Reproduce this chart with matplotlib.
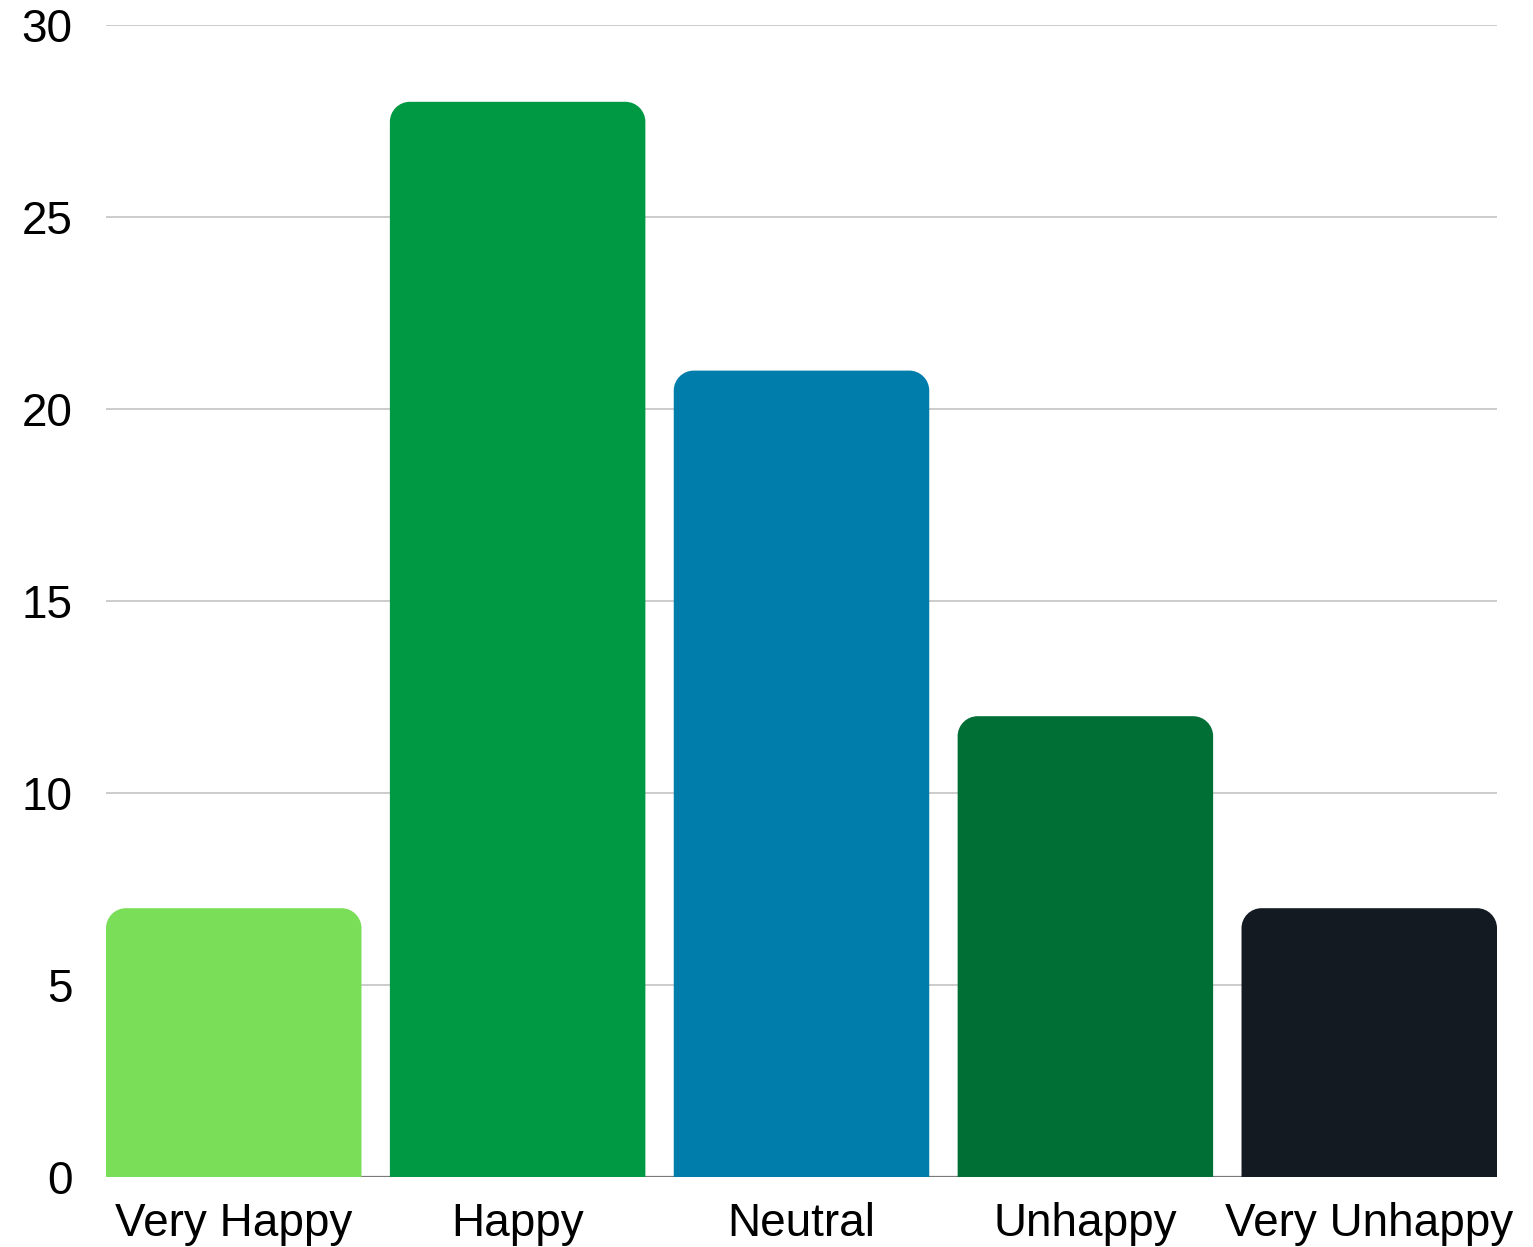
import matplotlib.pyplot as plt
from matplotlib.path import Path
from matplotlib.patches import PathPatch

categories = ["Very Happy", "Happy", "Neutral", "Unhappy", "Very Unhappy"]
counts = [7, 28, 21, 12, 7]
colors = ["#7BDE59", "#009943", "#007DAA", "#006F36", "#131A22"]
yticks = [0, 5, 10, 15, 20, 25, 30]

plt.rcParams['font.family'] = ['Liberation Sans', 'DejaVu Sans']

W, H = 1533, 1247
fig = plt.figure(figsize=(W / 100, H / 100), dpi=100)
left, right, bottom, top = 106, 1497, 1247 - 1177, 1247 - 25
ax = fig.add_axes([left / W, bottom / H, (right - left) / W, (top - bottom) / H])

xmin, xmax = -0.45, len(categories) - 0.55
ymin, ymax = 0, 30
ax.set_xlim(xmin, xmax)
ax.set_ylim(ymin, ymax)

# pixel scale of each data unit, used to keep the corners circular
px_x = (right - left) / (xmax - xmin)
px_y = (top - bottom) / (ymax - ymin)
radius_px = 20
rx = radius_px / px_x
ry = radius_px / px_y
width = 0.9
k = 0.5523  # bezier handle length for a quarter circle


def top_rounded_bar(x0, w, h):
    x1 = x0 + w
    verts = [
        (x0, 0), (x0, h - ry),
        (x0, h - ry + k * ry), (x0 + rx - k * rx, h), (x0 + rx, h),
        (x1 - rx, h),
        (x1 - rx + k * rx, h), (x1, h - ry + k * ry), (x1, h - ry),
        (x1, 0), (x0, 0),
    ]
    codes = [Path.MOVETO, Path.LINETO,
             Path.CURVE4, Path.CURVE4, Path.CURVE4,
             Path.LINETO,
             Path.CURVE4, Path.CURVE4, Path.CURVE4,
             Path.LINETO, Path.CLOSEPOLY]
    return Path(verts, codes)


for i, (v, c) in enumerate(zip(counts, colors)):
    ax.add_patch(PathPatch(top_rounded_bar(i - width / 2, width, v),
                           facecolor=c, edgecolor="none", zorder=3))

for t in yticks[1:]:
    ax.axhline(t, color="#C8C8C8", lw=1.3, zorder=1)
ax.axhline(0, color="#7A7A7A", lw=1.6, zorder=2)

for s in ax.spines.values():
    s.set_visible(False)

ax.set_xticks(range(len(categories)))
ax.set_xticklabels(categories, fontsize=33)
ax.set_yticks(yticks)
ax.set_yticklabels([str(t) for t in yticks], fontsize=33)
ax.tick_params(axis="x", length=0, pad=18)
ax.tick_params(axis="y", length=0, pad=24)

fig.savefig("out.png", dpi=100)
